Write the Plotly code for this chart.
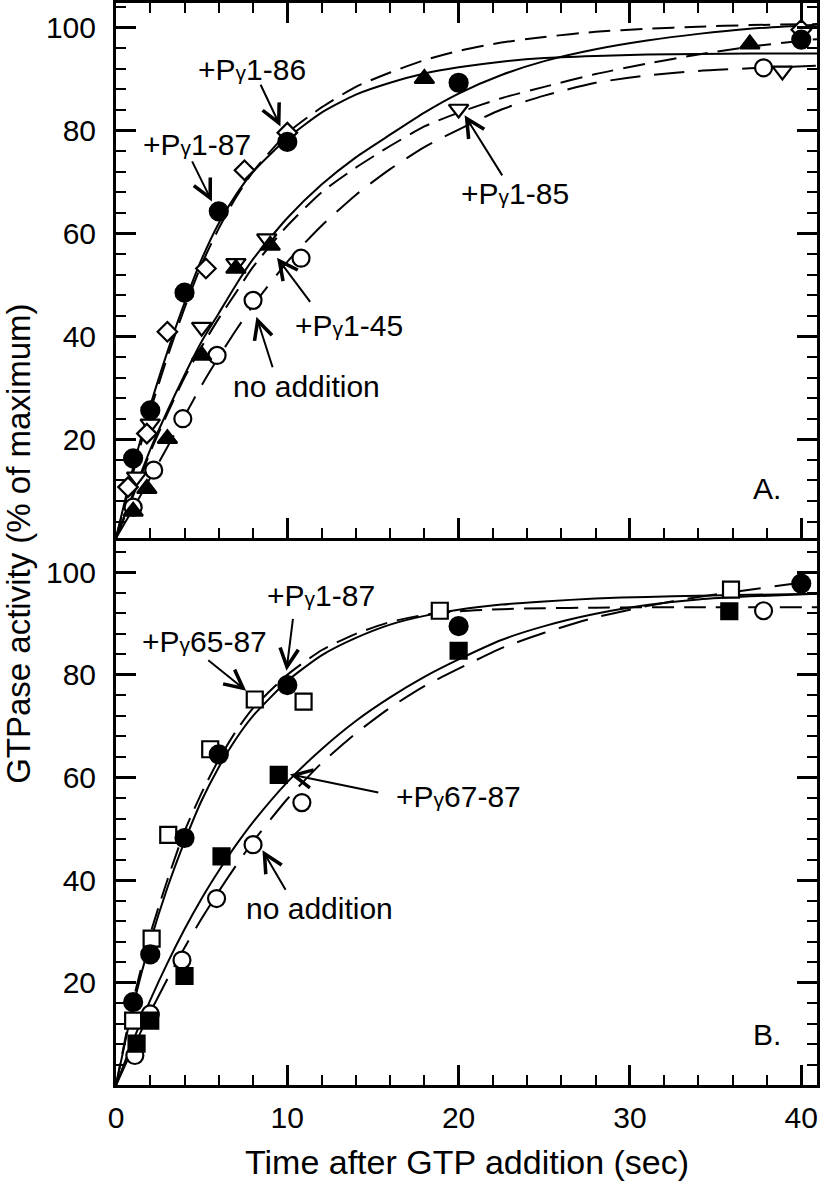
import plotly.graph_objects as go

fit_t = [0, 1, 2, 3, 4, 5, 6, 7, 8, 10, 12, 14, 16, 18, 20, 22.5, 25, 28, 31, 34, 37, 41]

# ---- Panel A: fitted curves (% of maximum) ----
fitA_1_87 = [0.8, 14.5, 26.5, 37, 46.5, 55, 62, 67.5, 72, 78.5, 83.5, 87, 89.3, 91.1, 92.3, 93.4, 94.1, 94.5, 94.8, 94.9, 95.0, 95.0]
fitA_1_86 = [0.8, 13.5, 25.5, 36, 45.5, 54, 61, 67, 72, 79.5, 84.5, 88.5, 91.3, 93.7, 95.5, 97.1, 98.2, 99.2, 99.8, 100.2, 100.5, 100.7]
fitA_1_45 = [0.8, 9.5, 18, 25.5, 32.5, 39, 44.5, 50, 55, 63, 69.5, 74.8, 79.2, 83.5, 87.2, 90.8, 93.5, 95.8, 97.5, 98.8, 99.8, 100.6]
fitA_1_85 = [0.8, 9, 17.5, 25, 32, 38, 43.5, 48.5, 53.5, 61.5, 68, 72.8, 77, 80.8, 83.5, 86.3, 88.5, 91, 93, 94.8, 96.3, 97.8]
fitA_none = [0.8, 6.5, 12.5, 18.5, 24.5, 30.5, 36, 41.2, 46, 54.5, 61.5, 67.5, 72.5, 76.8, 80.2, 84.1, 86.8, 89.3, 90.7, 91.6, 92.1, 92.6]

# ---- Panel A: measured points ----
a_t_1_87 = [1, 2, 4, 6, 10, 20, 40]
a_y_1_87 = [16.3, 25.6, 48.5, 64.3, 77.8, 89.3, 97.7]
a_t_1_86 = [0.7, 1.8, 3, 5.25, 7.5, 10, 40]
a_y_1_86 = [10.7, 21.1, 40.9, 53.2, 72.3, 79.6, 99.6]
a_t_1_85 = [1.2, 2, 5, 7, 8.8, 20, 38.9]
a_y_1_85 = [12.7, 23, 41.8, 54.2, 59.0, 84.2, 91.6]
a_t_1_45 = [1, 1.8, 3, 5, 7, 9, 18, 37]
a_y_1_45 = [6, 10.4, 20.1, 36.3, 53.2, 57.7, 90.1, 96.8]
a_t_none = [1, 2.2, 3.9, 5.9, 8, 10.8, 37.8]
a_y_none = [6.8, 14, 24, 36.3, 47, 55.2, 92.2]

# ---- Panel B: fitted curves ----
fitB_1_87 = [0, 15.5, 28, 38.5, 47.5, 55.5, 62, 67.5, 72, 78.8, 83.8, 87.2, 89.8, 91.5, 92.7, 93.7, 94.3, 94.9, 95.2, 95.4, 95.6, 95.8]
fitB_65_87 = [0, 16.5, 29.5, 40, 49.5, 57, 63.5, 69, 73.5, 80, 84.8, 88, 90.3, 91.7, 92.4, 92.8, 93.0, 93.1, 93.2, 93.2, 93.2, 93.2]
fitB_none = [0, 8.7, 16.6, 23.8, 30.4, 36.4, 41.8, 46.8, 51.3, 59.1, 65.5, 71, 75.6, 79.6, 83, 86.8, 89.5, 91.9, 93.6, 94.7, 95.3, 95.8]
fitB_67_87 = [0, 7.3, 14.2, 20.7, 26.8, 32.5, 37.8, 42.8, 47.5, 55.8, 62.8, 68.6, 73.6, 77.8, 81.2, 85.2, 88.2, 91.2, 93.4, 95.2, 96.6, 98.4]

# ---- Panel B: measured points ----
b_t_1_87 = [1, 2, 4, 6, 10, 20, 40]
b_y_1_87 = [16.2, 25.5, 48.2, 64.5, 78.0, 89.5, 97.8]
b_t_65_87 = [1, 2.08, 3.05, 5.5, 8.1, 10.95, 18.9, 35.9]
b_y_65_87 = [12.6, 28.6, 48.8, 65.5, 75.2, 74.8, 92.5, 96.6]
b_t_67_87 = [1.2, 2, 4, 6.16, 9.5, 20, 35.8]
b_y_67_87 = [8.1, 12.6, 21.3, 44.6, 60.5, 84.7, 92.4]
b_t_none = [1.1, 2, 3.85, 5.87, 8, 10.85, 37.8]
b_y_none = [5.8, 13.9, 24.4, 36.4, 46.9, 55.1, 92.5]

FONT = "Liberation Sans, Arial, sans-serif"
G = "<span style='font-size:21px'>γ</span>"

fig = go.Figure()


def add_fit(y, dash, xa, ya):
    fig.add_trace(go.Scatter(x=fit_t, y=y, mode="lines", xaxis=xa, yaxis=ya,
                             line=dict(color="black", width=2, dash=dash,
                                       shape="spline", smoothing=0.6),
                             showlegend=False, hoverinfo="skip"))


def add_pts(t, y, symbol, size, fill, xa, ya):
    fig.add_trace(go.Scatter(x=t, y=y, mode="markers", xaxis=xa, yaxis=ya,
                             marker=dict(symbol=symbol, size=size, color=fill,
                                         line=dict(color="black", width=2.2)),
                             cliponaxis=False, showlegend=False))


# panel A curves
add_fit(fitA_1_87, "solid", "x", "y")
add_fit(fitA_1_86, "22px,10px", "x", "y")
add_fit(fitA_1_45, "solid", "x", "y")
add_fit(fitA_1_85, "22px,10px", "x", "y")
add_fit(fitA_none, "30px,14px", "x", "y")
# panel B curves
add_fit(fitB_1_87, "solid", "x2", "y2")
add_fit(fitB_65_87, "22px,10px", "x2", "y2")
add_fit(fitB_none, "solid", "x2", "y2")
add_fit(fitB_67_87, "30px,14px", "x2", "y2")

# panel A points
add_pts(a_t_none, a_y_none, "circle", 17, "white", "x", "y")
add_pts(a_t_1_85, a_y_1_85, "triangle-down", 17, "white", "x", "y")
add_pts(a_t_1_86, a_y_1_86, "diamond", 15, "white", "x", "y")
add_pts(a_t_1_45, a_y_1_45, "triangle-up", 17, "black", "x", "y")
add_pts(a_t_1_87, a_y_1_87, "circle", 18, "black", "x", "y")
# panel B points
add_pts(b_t_none, b_y_none, "circle", 17, "white", "x2", "y2")
add_pts(b_t_65_87, b_y_65_87, "square", 16, "white", "x2", "y2")
add_pts(b_t_67_87, b_y_67_87, "square", 16, "black", "x2", "y2")
add_pts(b_t_1_87, b_y_1_87, "circle", 18, "black", "x2", "y2")

# curve labels: (text, x, y, panel)
labels = [
    ("+P" + G + "1-86", 7.95, 91.8, 1),
    ("+P" + G + "1-87", 4.7, 77.2, 1),
    ("+P" + G + "1-85", 23.3, 67.8, 1),
    ("+P" + G + "1-45", 13.6, 42.2, 1),
    ("no addition", 11.1, 30.2, 1),
    ("A.", 38.0, 10.4, 1),
    ("+P" + G + "65-87", 5.14, 86.6, 2),
    ("+P" + G + "1-87", 11.95, 95.5, 2),
    ("+P" + G + "67-87", 20.0, 56.3, 2),
    ("no addition", 11.9, 34.5, 2),
    ("B.", 38.0, 9.8, 2),
]
# arrows: (tail x, tail y, tip x, tip y, panel)
arrows = [
    (8.4, 89.2, 9.6, 80.8, 1),
    (4.4, 74.3, 5.6, 66.2, 1),
    (22.6, 71.0, 20.35, 83.0, 1),
    (11.4, 46.4, 9.4, 55.3, 1),
    (9.17, 33.7, 8.2, 43.8, 1),
    (5.3, 83.1, 7.6, 76.9, 2),
    (10.34, 91.2, 9.95, 80.8, 2),
    (15.4, 57.0, 10.15, 60.6, 2),
    (9.95, 37.8, 8.55, 45.8, 2),
]

ann = []
for txt, x, y, p in labels:
    xr, yr = ("x", "y") if p == 1 else ("x2", "y2")
    ann.append(dict(text=txt, x=x, y=y, xref=xr, yref=yr, showarrow=False,
                    xanchor="center", yanchor="middle",
                    font=dict(family=FONT, size=30, color="black")))
for tx, ty, hx, hy, p in arrows:
    xr, yr = ("x", "y") if p == 1 else ("x2", "y2")
    ann.append(dict(text="", x=hx, y=hy, ax=tx, ay=ty, xref=xr, yref=yr,
                    axref=xr, ayref=yr, showarrow=True, arrowhead=5,
                    arrowsize=1.8, arrowwidth=2, arrowcolor="black", standoff=0))

# axis titles
ann.append(dict(text="GTPase activity (% of maximum)", x=-0.14, y=0.5,
                xref="paper", yref="paper", textangle=-90, showarrow=False,
                xanchor="center", yanchor="middle",
                font=dict(family=FONT, size=33, color="black")))
ann.append(dict(text="Time after GTP addition (sec)", x=0.5, y=-0.071,
                xref="paper", yref="paper", showarrow=False,
                xanchor="center", yanchor="middle",
                font=dict(family=FONT, size=34, color="black")))

tickfont = dict(family=FONT, size=30, color="black")
base = dict(showline=True, linewidth=3, linecolor="black", ticks="inside",
            ticklen=20, tickwidth=2.5, tickcolor="black", showgrid=False,
            zeroline=False, tickfont=tickfont, automargin=False)
xminor = dict(ticks="inside", ticklen=10, tickwidth=2, tickcolor="black",
              dtick=2, tick0=0, showgrid=False)
yminor = dict(ticks="inside", ticklen=10, tickwidth=2, tickcolor="black",
              dtick=4, tick0=0, showgrid=False)

fig.update_layout(
    width=820, height=1184,
    margin=dict(l=116, r=3, t=3, b=99),
    paper_bgcolor="white", plot_bgcolor="white",
    font=dict(family=FONT, color="black"),
    xaxis=dict(base, domain=[0, 1], anchor="y", range=[0, 40.92], dtick=10,
               tick0=0, mirror="ticks", showticklabels=False, minor=xminor),
    yaxis=dict(base, domain=[0.5055, 1], anchor="x", range=[0.8, 104.8],
               dtick=20, tick0=0, mirror="ticks", minor=yminor,
               ticklabelstandoff=11),
    xaxis2=dict(base, domain=[0, 1], anchor="y2", range=[0, 40.92], dtick=10,
                tick0=0, mirror=True, minor=xminor, ticklabelstandoff=4),
    yaxis2=dict(base, domain=[0, 0.5028], anchor="x2", range=[0.05, 106.1],
                dtick=20, tick0=0, mirror="ticks", minor=yminor,
                ticklabelstandoff=11),
    annotations=ann,
)

# remove the default page margin so the figure starts at the window corner
fig.write_html("out.html", config={"displayModeBar": False},
               post_script="document.body.style.margin='0';")
